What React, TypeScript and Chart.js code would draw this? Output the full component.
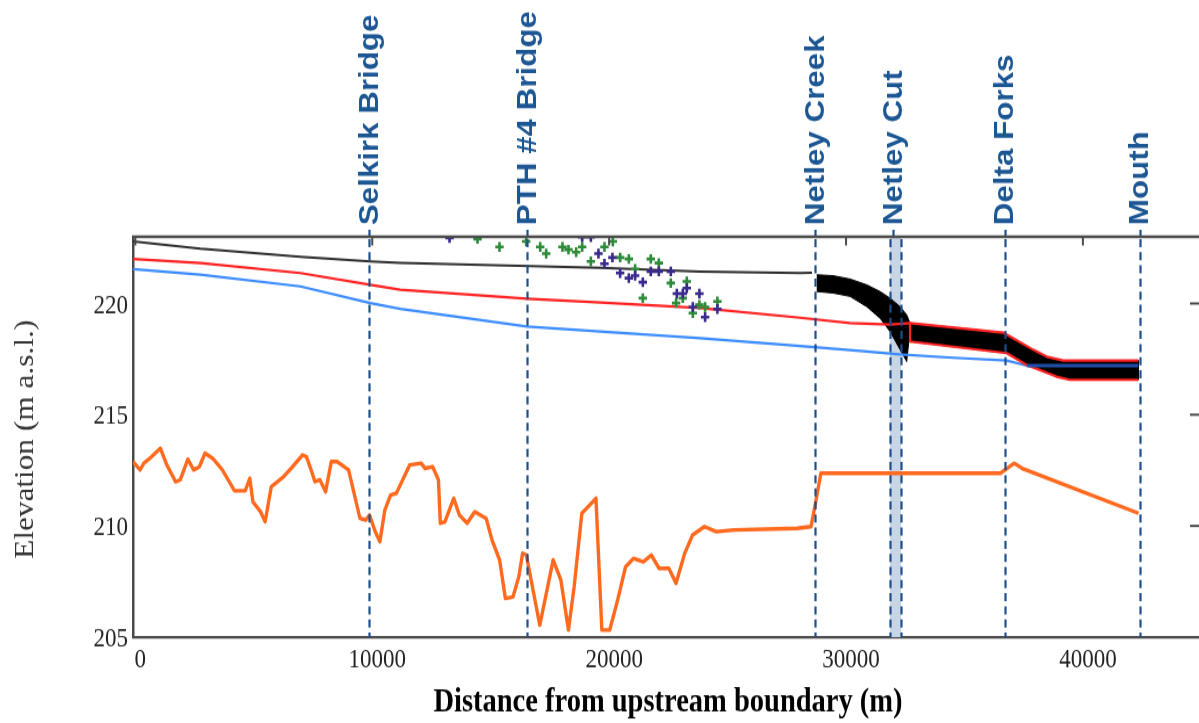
import React, { useEffect, useRef } from 'react';
import { Chart, registerables } from 'chart.js';

Chart.register(...registerables);

// ---------- canvas geometry (drawn at reduced height, displayed stretched like the reference) ----------
const CANVAS_W = 1199;
const CANVAS_H = 623;
const DISPLAY_H = 723;

// ---------- axes ----------
const xMin = -100;
const xMax = 44900;
const yMin = 205;
const yMax = 223;
const xTickValues = [0, 10000, 20000, 30000, 40000];
const yTickValues = [205, 210, 215, 220];

// ---------- landmarks ----------
const landmarkNames = ['Selkirk Bridge', 'PTH #4 Bridge', 'Netley Creek', 'Netley Cut', 'Delta Forks', 'Mouth'];
const landmarkX = [9873, 16540, 28692, 32000, 36709, 42405];
const netleyCutRange = [31857, 32321];

// ---------- bed profile (orange) ----------
const bedX = [-100, 198, 359, 683, 1055, 1329, 1700, 1894, 2215, 2460, 2700, 2941, 3266, 3671, 4186, 4637, 4831, 4962, 5283, 5477, 5738, 6253, 6578, 7059, 7224, 7464, 7578, 7789, 8030, 8270, 8515, 9000, 9481, 9726, 9886, 10127, 10321, 10532, 10776, 11017, 11582, 12068, 12228, 12553, 12793, 12873, 13068, 13439, 13679, 14004, 14329, 14810, 15055, 15376, 15620, 15941, 16186, 16346, 16506, 16667, 17072, 17637, 17962, 18283, 18523, 18848, 19443, 19692, 20025, 20359, 20692, 21025, 21443, 21777, 22110, 22523, 22823, 23190, 23523, 24025, 24523, 25274, 27937, 28523, 28738, 28937, 36515, 37101, 37435, 42346];
const bedY = [212.89, 212.52, 212.82, 213.11, 213.49, 212.74, 211.99, 212.07, 213.0, 212.52, 212.66, 213.27, 213.04, 212.52, 211.58, 211.58, 212.14, 211.09, 210.64, 210.19, 211.76, 212.21, 212.59, 213.19, 213.11, 212.37, 211.99, 212.07, 211.54, 212.89, 212.89, 212.52, 210.34, 210.27, 210.49, 209.74, 209.29, 210.72, 211.39, 211.47, 212.74, 212.82, 212.59, 212.66, 212.07, 210.12, 210.19, 211.24, 210.49, 210.12, 210.64, 210.34, 209.37, 208.47, 206.74, 206.81, 207.71, 208.77, 208.69, 207.79, 205.54, 208.47, 207.57, 205.32, 207.27, 210.57, 211.24, 205.32, 205.32, 206.67, 208.16, 208.54, 208.39, 208.69, 208.09, 208.09, 207.42, 208.77, 209.59, 209.97, 209.74, 209.82, 209.89, 209.97, 211.17, 212.37, 212.37, 212.82, 212.59, 210.57];

// ---------- upper water level (dark grey) ----------
const greyX = [-100, 2743, 6962, 9916, 11181, 19620, 23840, 28059, 28565];
const greyY = [222.79, 222.46, 222.10, 221.89, 221.83, 221.60, 221.44, 221.37, 221.38];

// ---------- red water level ----------
const redX = [-100, 2743, 6962, 9916, 11181, 16540, 19620, 23840, 28059, 30169, 31857, 32700, 36637, 37059, 37903, 38468, 39169, 42333];
const redY = [222.0, 221.82, 221.37, 220.84, 220.62, 220.22, 220.05, 219.80, 219.36, 219.12, 219.05, 219.12, 218.69, 218.44, 217.92, 217.61, 217.44, 217.44];
const redLowX = [32700, 32700, 36781, 37624, 38890, 39451, 42333];
const redLowY = [219.12, 218.29, 217.77, 217.24, 216.71, 216.57, 216.57];

// ---------- blue water level ----------
const blueX = [-100, 2743, 6962, 9916, 11181, 16540, 19620, 23840, 28059, 30169, 32278, 34515, 36781, 37624];
const blueY = [221.55, 221.30, 220.77, 220.02, 219.76, 218.96, 218.74, 218.44, 218.09, 217.91, 217.71, 217.56, 217.44, 217.21];
const darkBlueX = [37624, 42333];
const darkBlueY = [217.21, 217.21];

// ---------- black envelopes ----------
const wedgeX = [28764, 29451, 30169, 30873, 31435, 31857, 32278, 32561, 32700, 32658, 32561, 32207, 31857, 31435, 30873, 30169, 29451, 28764];
const wedgeY = [221.29, 221.25, 221.10, 220.84, 220.54, 220.24, 219.86, 219.49, 219.12, 218.37, 217.39, 218.07, 218.74, 219.34, 219.86, 220.32, 220.47, 220.54];
const bandX = [32700, 36637, 37059, 37903, 38468, 39169, 42333, 42333, 39451, 38890, 37624, 36781, 32700];
const bandY = [219.12, 218.69, 218.44, 217.92, 217.61, 217.44, 217.44, 216.57, 216.57, 216.71, 217.24, 217.77, 218.29];

// ---------- observations ----------
const greenX = [14443, 15371, 16498, 17089, 17342, 18030, 18283, 18608, 18861, 19802, 20156, 19228, 20464, 20831, 21097, 21759, 22097, 21422, 22603, 23278, 23110, 22827, 23810, 24051, 23532, 24570];
const greenY = [222.90, 222.54, 222.79, 222.54, 222.24, 222.54, 222.42, 222.31, 222.54, 222.54, 222.79, 221.89, 222.07, 222.0, 221.55, 222.0, 221.82, 220.24, 220.92, 220.99, 220.24, 220.02, 219.94, 219.84, 219.57, 220.09];
const purpleX = [13262, 18861, 19228, 19549, 19802, 20139, 20464, 20831, 21097, 21422, 21759, 22097, 22603, 22857, 23110, 23278, 23810, 23532, 24051, 24570];
const purpleY = [222.95, 222.99, 222.99, 222.24, 221.79, 222.07, 221.37, 221.14, 221.25, 220.96, 221.44, 221.44, 221.44, 220.44, 220.44, 220.69, 220.44, 219.84, 219.39, 219.75];

const zip = (xs: number[], ys: number[]) => xs.map((x, i) => ({ x, y: ys[i] }));

const SERIF = '"Liberation Serif", "Times New Roman", serif';
const SANS = '"Liberation Sans", Arial, sans-serif';
const AXIS_COLOR = '#4a4a4a';
const MARK_COLOR = '#1f4e8c';
const LABEL_COLOR = '#1c5794';

const overlayPlugin = {
  id: 'overlay',
  beforeDatasetsDraw(chart: any) {
    const { ctx, chartArea: a, scales } = chart;
    const x = scales.x;
    const x0 = x.getPixelForValue(netleyCutRange[0]);
    const x1 = x.getPixelForValue(netleyCutRange[1]);
    ctx.save();
    ctx.fillStyle = '#c8d5e5';
    ctx.fillRect(x0, a.top, x1 - x0, a.bottom - a.top);
    ctx.restore();
  },
  afterDatasetsDraw(chart: any) {
    const { ctx, chartArea: a, scales } = chart;
    const x = scales.x;
    const lines: number[] = [];
    landmarkNames.forEach((n, i) => {
      if (n === 'Netley Cut') {
        lines.push(netleyCutRange[0], netleyCutRange[1]);
      } else {
        lines.push(landmarkX[i]);
      }
    });
    ctx.save();
    ctx.strokeStyle = MARK_COLOR;
    ctx.lineWidth = 2.2;
    ctx.setLineDash([7, 4.3]);
    lines.forEach((v) => {
      const px = Math.round(x.getPixelForValue(v)) + 0.5;
      ctx.beginPath();
      ctx.moveTo(px, a.top + 2);
      ctx.lineTo(px, a.bottom);
      ctx.stroke();
    });
    ctx.setLineDash([]);
    landmarkX.forEach((v) => {
      const px = Math.round(x.getPixelForValue(v)) + 0.5;
      ctx.beginPath();
      ctx.moveTo(px, a.top - 6);
      ctx.lineTo(px, a.top);
      ctx.stroke();
    });
    ctx.restore();
  },
  afterDraw(chart: any) {
    const { ctx, chartArea: a, scales } = chart;
    const x = scales.x;
    const y = scales.y;
    ctx.save();
    ctx.strokeStyle = AXIS_COLOR;
    ctx.lineWidth = 2.3;
    ctx.beginPath();
    ctx.moveTo(a.left - 1, a.top);
    ctx.lineTo(a.right, a.top);
    ctx.stroke();
    ctx.lineWidth = 2;
    xTickValues.forEach((v) => {
      const px = x.getPixelForValue(v);
      ctx.beginPath();
      ctx.moveTo(px, a.top);
      ctx.lineTo(px, a.top + 7.5);
      ctx.stroke();
    });
    yTickValues.forEach((v) => {
      const py = y.getPixelForValue(v);
      ctx.beginPath();
      ctx.moveTo(a.right, py);
      ctx.lineTo(a.right - 9, py);
      ctx.stroke();
    });

    ctx.font = `bold 27px ${SANS}`;
    ctx.fillStyle = LABEL_COLOR;
    ctx.textAlign = 'left';
    ctx.textBaseline = 'middle';
    landmarkNames.forEach((name, i) => {
      const px = x.getPixelForValue(landmarkX[i]);
      ctx.save();
      ctx.translate(px + 1, a.top - 10);
      ctx.rotate(-Math.PI / 2);
      ctx.fillText(name, 0, 0);
      ctx.restore();
    });

    ctx.fillStyle = '#333';
    ctx.font = `27px ${SERIF}`;
    ctx.textAlign = 'center';
    ctx.textBaseline = 'middle';
    ctx.save();
    ctx.translate(26, (a.top + a.bottom) / 2 + 2);
    ctx.rotate(-Math.PI / 2);
    ctx.fillText('Elevation (m a.s.l.)', 0, 0);
    ctx.restore();

    ctx.fillStyle = '#000';
    ctx.font = `bold 28.5px ${SERIF}`;
    ctx.fillText('Distance from upstream boundary (m)', 668, 606);
    ctx.restore();
  },
};

export default function App() {
  const canvasRef = useRef<HTMLCanvasElement | null>(null);

  useEffect(() => {
    document.body.style.margin = '0';
    document.body.style.overflow = 'hidden';
    const canvas = canvasRef.current;
    if (!canvas) return;

    const lineDs = (label: string, data: any[], color: string, width: number, order: number, extra: any = {}) => ({
      type: 'line',
      label,
      data,
      borderColor: color,
      backgroundColor: color,
      borderWidth: width,
      pointRadius: 0,
      tension: 0,
      fill: false,
      borderJoinStyle: 'round',
      order,
      ...extra,
    });

    const chart = new Chart(canvas, {
      type: 'line',
      data: {
        datasets: [
          {
            type: 'scatter',
            label: 'Observed A',
            data: zip(purpleX, purpleY),
            showLine: false,
            pointStyle: 'cross',
            pointRadius: 4.2,
            pointBorderWidth: 2.6,
            borderColor: '#3b2a8c',
            backgroundColor: '#3b2a8c',
            order: 0,
          },
          {
            type: 'scatter',
            label: 'Observed B',
            data: zip(greenX, greenY),
            showLine: false,
            pointStyle: 'cross',
            pointRadius: 4.2,
            pointBorderWidth: 2.6,
            borderColor: '#2e8b3a',
            backgroundColor: '#2e8b3a',
            order: 0,
          },
          lineDs('Blue (lower reach)', zip(darkBlueX, darkBlueY), '#1f4ea8', 3, 1),
          lineDs('Red upper', zip(redX, redY), '#ff2222', 2.2, 2),
          lineDs('Red lower', zip(redLowX, redLowY), '#ff2222', 2.2, 3),
          lineDs('Blue', zip(blueX, blueY), '#3c8cff', 2.2, 4),
          lineDs('Band', zip(bandX, bandY), '#000000', 1, 5, { fill: 'shape', backgroundColor: '#000000' }),
          lineDs('Wedge', zip(wedgeX, wedgeY), '#000000', 1, 6, { fill: 'shape', backgroundColor: '#000000' }),
          lineDs('Grey', zip(greyX, greyY), '#2e2e2e', 2, 7),
          lineDs('Bed', zip(bedX, bedY), '#ff6a1f', 3.4, 8),
        ] as any,
      },
      options: {
        responsive: false,
        animation: false,
        devicePixelRatio: 1,
        layout: { autoPadding: false, padding: { top: 204, left: 0, right: 0, bottom: 0 } },
        plugins: {
          legend: { display: false },
          tooltip: { enabled: false },
          title: { display: false },
        },
        scales: {
          x: {
            type: 'linear',
            min: xMin,
            max: xMax,
            afterBuildTicks: (s: any) => {
              s.ticks = xTickValues.map((v) => ({ value: v }));
            },
            afterFit: (s: any) => {
              s.height = 74;
              s.paddingLeft = 0;
              s.paddingRight = 0;
            },
            grid: { display: false, drawTicks: false },
            border: { display: true, color: AXIS_COLOR, width: 2.3 },
            ticks: {
              font: { family: SERIF, size: 23 },
              color: '#222',
              padding: 6,
              labelOffset: 5,
              maxRotation: 0,
              autoSkip: false,
              callback: (v: any) => String(v),
            },
          },
          y: {
            type: 'linear',
            min: yMin,
            max: yMax,
            afterBuildTicks: (s: any) => {
              s.ticks = yTickValues.map((v) => ({ value: v }));
            },
            afterFit: (s: any) => {
              s.width = 133;
            },
            grid: { display: false, drawTicks: false },
            border: { display: true, color: AXIS_COLOR, width: 2.5 },
            ticks: {
              font: { family: SERIF, size: 23 },
              color: '#222',
              padding: 5,
              labelOffset: 2,
              autoSkip: false,
              callback: (v: any) => String(v),
            },
          },
        },
      } as any,
      plugins: [overlayPlugin],
    });

    return () => {
      chart.destroy();
    };
  }, []);

  return (
    <canvas
      ref={canvasRef}
      width={CANVAS_W}
      height={CANVAS_H}
      style={{ display: 'block', width: `${CANVAS_W}px`, height: `${DISPLAY_H}px` }}
    />
  );
}
